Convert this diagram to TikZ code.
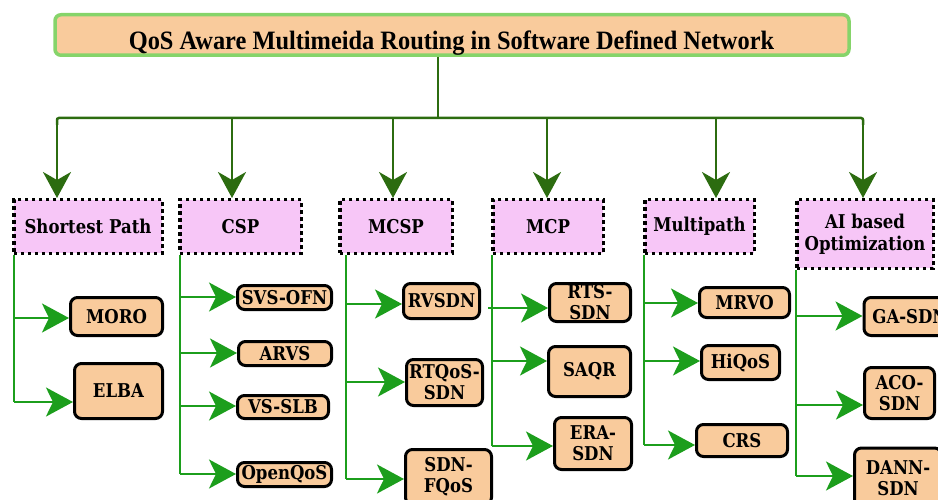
\documentclass[tikz,border=0pt]{standalone}
\usepackage{fontspec}
\setmainfont[FakeStretch=0.87]{DejaVu Serif}
\newfontfamily\titlefont[FakeStretch=0.92]{Liberation Serif}
\usetikzlibrary{arrows.meta}

\definecolor{peach}{HTML}{F9CB9C}
\definecolor{framegreen}{HTML}{86D46A}
\definecolor{catpink}{HTML}{F7C6F7}
\definecolor{busgreen}{HTML}{2C6C10}
\definecolor{brgreen}{HTML}{1C9E1C}

\begin{document}
\begin{tikzpicture}[x=1pt,y=-1pt,
  titlebox/.style={draw=framegreen, fill=peach, line width=3.5pt, rounded corners=6pt,
    minimum width=794pt, minimum height=40.5pt, inner sep=0pt},
  titletext/.style={font=\titlefont\bfseries\fontsize{26.5}{30}\selectfont, inner sep=0pt},
  catbox/.style={draw=black, fill=catpink, line width=3.5pt, dash pattern=on 3.5pt off 3.5pt,
    font=\bfseries\fontsize{19}{22}\selectfont, align=center, inner sep=0pt},
  leaf/.style={draw=black, fill=peach, line width=3pt, rounded corners=7pt,
    font=\bfseries\fontsize{19}{21}\selectfont, align=center, inner sep=0pt},
  bus/.style={busgreen, line width=2.5pt},
  down/.style={bus, -{Stealth[length=26pt,width=28pt,inset=8pt]}},
  trunk/.style={brgreen, line width=2.5pt},
  br/.style={trunk, -{Stealth[length=27pt,width=29pt,inset=7pt]}},
]
\useasboundingbox (0,0) rectangle (938,500);
\clip (0,0) rectangle (938,500);

% root
\node[titlebox] (title) at (452,35) {};
\node[titletext] (titlelabel) at (451.5,43) {QoS Aware Multimeida Routing in Software Defined Network};

% categories
\node[catbox, minimum width=148.5pt, minimum height=53.5pt] (sp)   at (88,226.5)  {Shortest Path};
\node[catbox, minimum width=121.5pt, minimum height=53.5pt] (csp)  at (240.5,226.5) {CSP};
\node[catbox, minimum width=112.5pt, minimum height=53.5pt] (mcsp) at (396,226.5) {MCSP};
\node[catbox, minimum width=110.5pt, minimum height=53.5pt] (mcp)  at (548,226.5) {MCP};
\node[catbox, minimum width=109.5pt, minimum height=53.5pt] (mp)   at (699.5,226.5) {Multipath};
\node[catbox, minimum width=136.5pt, minimum height=68.5pt] (ai)   at (865,234) {AI based\\Optimization};

% leaves
\node[leaf, minimum width=92pt, minimum height=38pt] (moro)    at (116.5,316.5) {MORO};
\node[leaf, minimum width=88pt, minimum height=55pt] (elba)    at (118.5,391) {ELBA};
\node[leaf, minimum width=94pt, minimum height=24pt] (svs)     at (284.5,297.5) {SVS-OFN};
\node[leaf, minimum width=93pt, minimum height=24pt] (arvs)    at (285,353.5) {ARVS};
\node[leaf, minimum width=91pt, minimum height=23pt] (vsslb)   at (283,407) {VS-SLB};
\node[leaf, minimum width=94pt, minimum height=24pt] (openqos) at (284.5,474.5) {OpenQoS};
\node[leaf, minimum width=76pt, minimum height=35pt] (rvsdn)   at (441.5,301) {RVSDN};
\node[leaf, minimum width=76pt, minimum height=46pt] (rtqos)   at (444.5,382.5) {RTQoS-\\SDN};
\node[leaf, minimum width=86pt, minimum height=55pt] (fqos)    at (448.5,477) {SDN-\\FQoS};
\node[leaf, minimum width=81pt, minimum height=38pt] (rts)     at (590,302.5) {RTS-\\SDN};
\node[leaf, minimum width=82pt, minimum height=50pt] (saqr)    at (589.5,371.5) {SAQR};
\node[leaf, minimum width=77pt, minimum height=52pt] (era)     at (593,443.5) {ERA-\\SDN};
\node[leaf, minimum width=90pt, minimum height=30pt] (mrvo)    at (744.5,302.5) {MRVO};
\node[leaf, minimum width=78pt, minimum height=34pt] (hiqos)   at (740.5,362.5) {HiQoS};
\node[leaf, minimum width=91pt, minimum height=32pt] (crs)     at (742,440.5) {CRS};
\node[leaf, minimum width=92pt, minimum height=38pt] (ga)      at (910,316.5) {GA-SDN};
\node[leaf, minimum width=70pt, minimum height=51pt] (aco)     at (899.5,393) {ACO-\\SDN};
\node[leaf, minimum width=87pt, minimum height=60pt] (dann)    at (898,478) {DANN-\\SDN};

% root to categories
\draw[bus] (title.south -| 438,0) -- (438,118);
\draw[bus, rounded corners=2pt] (57,125) -- (57,118) -- (863,118) -- (863,125);
\draw[down] (57,118)  -- (57,0 |- sp.north);
\draw[down] (232,118) -- (232,0 |- csp.north);
\draw[down] (393,118) -- (393,0 |- mcsp.north);
\draw[down] (547,118) -- (547,0 |- mcp.north);
\draw[down] (716,118) -- (716,0 |- mp.north);
\draw[down] (863,118) -- (863,0 |- ai.north);

% Shortest Path
\draw[trunk] (14,0 |- sp.south) -- (14,402);
\draw[br] (14,318) -- (moro.west |- 0,318);
\draw[br] (14,402) -- (elba.west |- 0,402);
% CSP
\draw[trunk] (180,0 |- csp.south) -- (180,474);
\draw[br] (180,297) -- (svs.west |- 0,297);
\draw[br] (180,353) -- (arvs.west |- 0,353);
\draw[br] (180,406) -- (vsslb.west |- 0,406);
\draw[br] (180,474) -- (openqos.west |- 0,474);
% MCSP
\draw[trunk] (346,0 |- mcsp.south) -- (346,479);
\draw[br] (346,304) -- (rvsdn.west |- 0,304);
\draw[br] (346,382) -- (rtqos.west |- 0,382);
\draw[br] (346,479) -- (fqos.west |- 0,479);
% MCP
\draw[trunk] (492,0 |- mcp.south) -- (492,446);
\draw[br] (488,308) -- (rts.west |- 0,308);
\draw[br] (492,361) -- (saqr.west |- 0,361);
\draw[br] (492,446) -- (era.west |- 0,446);
% Multipath
\draw[trunk] (644,0 |- mp.south) -- (644,445);
\draw[br] (644,303) -- (mrvo.west |- 0,303);
\draw[br] (644,361) -- (hiqos.west |- 0,361);
\draw[br] (644,445) -- (crs.west |- 0,445);
% AI based Optimization
\draw[trunk] (796,0 |- ai.south) -- (796,476);
\draw[br] (796,316) -- (ga.west |- 0,316);
\draw[br] (796,405) -- (aco.west |- 0,405);
\draw[br] (796,476) -- (dann.west |- 0,476);
\end{tikzpicture}
\end{document}
